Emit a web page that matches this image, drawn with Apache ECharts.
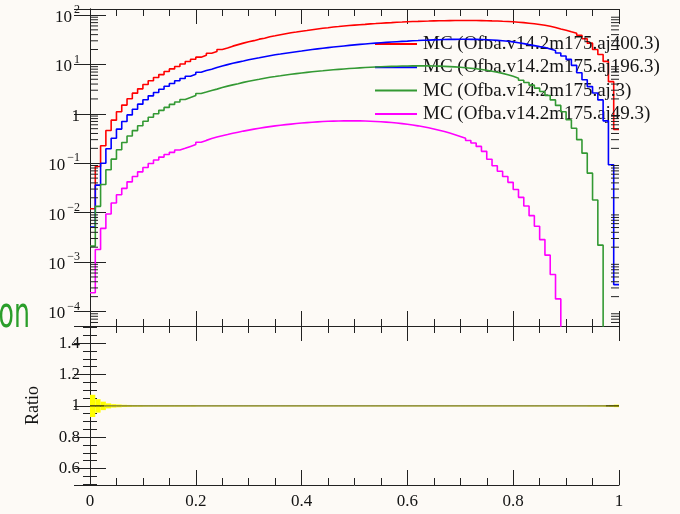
<!DOCTYPE html>
<html>
<head>
<meta charset="utf-8">
<script src="https://cdn.jsdelivr.net/npm/echarts@6/dist/echarts.min.js"></script>
<style>
  html, body { margin: 0; padding: 0; background: #fdfaf6; }
  #chart { width: 680px; height: 514px; }
</style>
</head>
<body>
<div id="chart"></div>
<script>
// Histogram binning: 100 equal bins on [0, 1]
const binCount = 100;
const xRange = [0, 1];

// Legend entries, one per sample
const sampleNames = [
  'MC (Ofba.v14.2m175.aj400.3)',
  'MC (Ofba.v14.2m175.aj196.3)',
  'MC (Ofba.v14.2m175.aj.3)',
  'MC (Ofba.v14.2m175.aj49.3)'
];

// Bin contents (0 = empty bin)
const aj400 = [
  0.012, 0.086, 0.226, 0.46, 0.745, 1.10, 1.50, 2.01, 2.62, 3.20,
  3.91, 4.65, 5.42, 6.22, 7.16, 8.11, 9.04, 10.2, 11.4, 12.7,
  14.0, 15.3, 16.8, 18.2, 20.0, 21.4, 23.4, 25.1, 26.9, 28.8,
  30.2, 32.4, 33.9, 36.3, 38.0, 39.8, 41.7, 43.7, 45.2, 46.8,
  48.4, 50.1, 51.9, 53.7, 55.0, 56.9, 58.2, 59.6, 61.0, 62.4,
  63.5, 64.6, 66.1, 67.1, 68.2, 69.2, 70.1, 71.1, 71.9, 72.8,
  73.5, 74.1, 74.8, 75.3, 75.9, 76.2, 76.6, 76.9, 77.1, 77.3,
  77.3, 77.3, 77.1, 76.9, 76.6, 76.0, 75.5, 74.6, 73.8, 72.8,
  71.4, 70.0, 68.2, 66.4, 64.1, 61.7, 58.9, 55.6, 51.9, 49.0,
  45.7, 42.7, 38.9, 33.1, 26.9, 20.0, 15.8, 11.5, 4.47, 0.48
];
const aj196 = [
  0.0051, 0.036, 0.10, 0.196, 0.32, 0.49, 0.70, 0.95, 1.24, 1.57,
  1.92, 2.31, 2.70, 3.15, 3.62, 4.10, 4.65, 5.18, 5.77, 6.32,
  6.95, 7.50, 7.94, 8.61, 9.23, 9.89, 10.5, 11.1, 11.7, 12.4,
  13.0, 13.6, 14.3, 15.0, 15.7, 16.2, 16.8, 17.4, 18.0, 18.6,
  19.3, 20.0, 20.6, 21.2, 21.8, 22.4, 23.0, 23.6, 24.2, 24.8,
  25.4, 25.9, 26.4, 26.9, 27.4, 27.9, 28.4, 28.8, 29.2, 29.6,
  30.1, 30.4, 30.8, 31.0, 31.3, 31.6, 31.8, 32.0, 32.1, 32.2,
  32.2, 32.1, 32.0, 31.8, 31.5, 31.1, 30.6, 30.0, 29.3, 28.5,
  27.5, 26.3, 25.1, 24.0, 22.9, 21.9, 20.4, 19.1, 17.0, 14.8,
  12.6, 9.55, 6.76, 4.90, 3.55, 2.63, 1.91, 0.72, 0.093, 0.00035
];
const ajDot3 = [
  0.0021, 0.0134, 0.037, 0.074, 0.121, 0.187, 0.263, 0.355, 0.457, 0.575,
  0.708, 0.851, 1.00, 1.175, 1.349, 1.549, 1.738, 1.95, 2.14, 2.34,
  2.57, 2.75, 2.95, 3.16, 3.39, 3.63, 3.85, 4.07, 4.32, 4.57,
  4.79, 5.01, 5.25, 5.50, 5.69, 5.89, 6.10, 6.31, 6.50, 6.70,
  6.89, 7.08, 7.24, 7.41, 7.59, 7.76, 7.94, 8.09, 8.24, 8.38,
  8.51, 8.63, 8.75, 8.85, 8.95, 9.04, 9.12, 9.18, 9.25, 9.29,
  9.31, 9.33, 9.33, 9.31, 9.27, 9.20, 9.12, 9.02, 8.89, 8.75,
  8.57, 8.38, 8.15, 7.89, 7.60, 7.29, 6.95, 6.58, 6.17, 5.73,
  5.27, 4.79, 4.30, 3.80, 3.31, 2.82, 2.34, 1.91, 1.48, 1.10,
  0.76, 0.51, 0.30, 0.16, 0.063, 0.018, 0.0022, 0, 0, 0
];
const aj49 = [
  0.00024, 0.0018, 0.0048, 0.0094, 0.0157, 0.023, 0.031, 0.042, 0.054, 0.067,
  0.082, 0.099, 0.116, 0.133, 0.150, 0.166, 0.185, 0.20, 0.219, 0.24,
  0.265, 0.29, 0.315, 0.339, 0.359, 0.38, 0.403, 0.425, 0.447, 0.468,
  0.49, 0.51, 0.531, 0.55, 0.569, 0.586, 0.603, 0.619, 0.635, 0.65,
  0.664, 0.676, 0.687, 0.697, 0.705, 0.711, 0.716, 0.72, 0.721, 0.721,
  0.72, 0.715, 0.708, 0.70, 0.69, 0.679, 0.667, 0.652, 0.634, 0.615,
  0.594, 0.571, 0.547, 0.521, 0.494, 0.466, 0.437, 0.407, 0.378, 0.348,
  0.319, 0.288, 0.257, 0.219, 0.174, 0.12, 0.089, 0.069, 0.054, 0.041,
  0.0295, 0.0204, 0.0136, 0.0087, 0.0053, 0.00285, 0.00138, 0.00056, 0.00018, 0,
  0, 0, 0, 0, 0, 0, 0, 0, 0, 0
];

// Ratio panel: reference / reference, and its relative statistical band half-width
const ratioValues = [
  1,1,1,1,1,1,1,1,1,1, 1,1,1,1,1,1,1,1,1,1, 1,1,1,1,1,1,1,1,1,1, 1,1,1,1,1,1,1,1,1,1,
  1,1,1,1,1,1,1,1,1,1, 1,1,1,1,1,1,1,1,1,1, 1,1,1,1,1,1,1,1,1,1, 1,1,1,1,1,1,1,1,1,1,
  1,1,1,1,1,1,1,1,1,1, 1,1,1,1,1,1,1,1,1,1
];
const bandHalfWidth = [
  0.071, 0.043, 0.027, 0.016, 0.011, 0.009, 0.007, 0.006, 0.005, 0.005,
  0.004, 0.004, 0.004, 0.004, 0.004, 0.004, 0.004, 0.004, 0.004, 0.004,
  0.003, 0.003, 0.003, 0.003, 0.003, 0.003, 0.003, 0.003, 0.003, 0.003,
  0.003, 0.003, 0.003, 0.003, 0.003, 0.003, 0.003, 0.003, 0.003, 0.003,
  0.003, 0.003, 0.003, 0.003, 0.003, 0.003, 0.003, 0.003, 0.003, 0.003,
  0.003, 0.003, 0.003, 0.003, 0.003, 0.003, 0.003, 0.003, 0.003, 0.003,
  0.003, 0.003, 0.003, 0.003, 0.003, 0.003, 0.003, 0.003, 0.003, 0.003,
  0.003, 0.003, 0.003, 0.003, 0.003, 0.003, 0.003, 0.003, 0.003, 0.003,
  0.003, 0.003, 0.003, 0.003, 0.003, 0.003, 0.003, 0.003, 0.003, 0.003,
  0.003, 0.003, 0.003, 0.003, 0.004, 0.004, 0.004, 0.005, 0.006, 0.008
];

const sampleValues = [aj400, aj196, ajDot3, aj49];
const sampleColors = ['#ff0000', '#0000ff', '#339933', '#ff00ff'];

// Axis ranges
const mainYRange = [5.09e-5, 132];
const ratioYRange = [0.495, 1.51];
const xTickStep = 0.2;

const serif = '"Liberation Serif", "DejaVu Serif", serif';
const frameColor = '#222222';
const textColor = '#141414';

// Bin lower/upper edges
function binEdges(i) {
  const w = (xRange[1] - xRange[0]) / binCount;
  return [xRange[0] + i * w, xRange[0] + (i + 1) * w];
}

// Turn bin contents into a stepped outline; empty bins drop below the axis floor
function stepOutline(vals, floor) {
  const pts = [];
  vals.forEach((v, i) => {
    const [lo, hi] = binEdges(i);
    const y = v > 0 ? v : floor;
    pts.push([lo, y], [hi, y]);
  });
  return pts;
}

// Log-axis minor tick positions (2..9 times each decade inside the range)
const minorLogTicks = [];
for (let e = -5; e <= 2; e++) {
  for (let m = 2; m <= 9; m++) {
    const v = m * Math.pow(10, e);
    if (v > mainYRange[0] && v < mainYRange[1]) minorLogTicks.push([0, v]);
  }
}

function decadeLabel(v) {
  const lg = Math.log10(v);
  const e = Math.round(lg);
  if (Math.abs(lg - e) > 1e-6) return '';
  if (e === 0) return '{b|1}';
  return '{b|10}{s|' + (e < 0 ? '\u2212' + (-e) : e) + '}';
}

const chart = echarts.init(document.getElementById('chart'), null, { renderer: 'canvas' });

const xAxisBase = (grid, pos, showLabels) => ({
  type: 'value',
  gridIndex: grid,
  position: pos,
  min: xRange[0],
  max: xRange[1],
  interval: xTickStep,
  axisLine: { show: true, onZero: false, lineStyle: { color: frameColor, width: 1 } },
  axisTick: { show: true, inside: true, length: 15, lineStyle: { color: frameColor, width: 1 } },
  minorTick: { show: true, splitNumber: 4, length: 7, lineStyle: { color: frameColor, width: 1 } },
  splitLine: { show: false },
  axisLabel: {
    show: showLabels,
    margin: 8,
    fontFamily: serif,
    fontSize: 17,
    color: textColor,
    formatter: v => String(+v.toFixed(2))
  }
});

const series = [];

sampleValues.forEach((vals, k) => {
  series.push({
    name: sampleNames[k],
    type: 'line',
    xAxisIndex: 0,
    yAxisIndex: 0,
    data: stepOutline(vals, 1e-9),
    showSymbol: false,
    symbol: 'none',
    clip: true,
    color: sampleColors[k],
    lineStyle: { color: sampleColors[k], width: 1.6 },
    z: 3 + k
  });
});

// Minor log ticks on both vertical frame edges
series.push({
  type: 'custom',
  xAxisIndex: 0,
  yAxisIndex: 0,
  data: minorLogTicks,
  clip: false,
  silent: true,
  z: 10,
  renderItem(params, api) {
    const v = api.value(1);
    const l = api.coord([xRange[0], v]);
    const r = api.coord([xRange[1], v]);
    const st = { stroke: frameColor, lineWidth: 1 };
    return {
      type: 'group',
      children: [
        { type: 'line', shape: { x1: l[0], y1: l[1], x2: l[0] + 8, y2: l[1] }, style: st },
        { type: 'line', shape: { x1: r[0] - 8, y1: r[1], x2: r[0], y2: r[1] }, style: st }
      ]
    };
  }
});

// Statistical band in the ratio panel
series.push({
  type: 'custom',
  xAxisIndex: 2,
  yAxisIndex: 2,
  data: ratioValues.map((r, i) => [i, r - bandHalfWidth[i], r + bandHalfWidth[i]]),
  clip: true,
  silent: true,
  z: 2,
  renderItem(params, api) {
    const i = api.value(0);
    const [lo, hi] = binEdges(i);
    const p0 = api.coord([lo, api.value(2)]);
    const p1 = api.coord([hi, api.value(1)]);
    return {
      type: 'rect',
      shape: { x: p0[0], y: p0[1], width: p1[0] - p0[0], height: Math.max(p1[1] - p0[1], 0.6) },
      style: { fill: '#ffff00' }
    };
  }
});

// Ratio line
series.push({
  type: 'line',
  xAxisIndex: 2,
  yAxisIndex: 2,
  data: stepOutline(ratioValues, 0),
  showSymbol: false,
  symbol: 'none',
  clip: true,
  lineStyle: {
    width: 1.4,
    color: new echarts.graphic.LinearGradient(0, 0, 1, 0, [
      { offset: 0, color: '#262610' },
      { offset: 0.03, color: '#262610' },
      { offset: 0.031, color: '#73733a' },
      { offset: 0.97, color: '#73733a' },
      { offset: 0.971, color: '#262610' },
      { offset: 1, color: '#262610' }
    ])
  },
  z: 4
});

const option = {
  backgroundColor: '#fdfaf6',
  animation: false,
  grid: [
    { left: 90, top: 9, width: 529, height: 317, containLabel: false },
    { left: 90, top: 326, width: 529, height: 159, containLabel: false }
  ],
  legend: {
    data: sampleNames,
    orient: 'vertical',
    left: 370,
    top: 29,
    icon: 'rect',
    itemWidth: 42,
    itemHeight: 2,
    itemGap: 3.3,
    selectedMode: false,
    textStyle: {
      fontFamily: serif,
      fontSize: 19,
      lineHeight: 20,
      color: textColor,
      padding: [0, 0, 0, 1]
    }
  },
  xAxis: [
    xAxisBase(0, 'bottom', false),
    xAxisBase(0, 'top', false),
    xAxisBase(1, 'bottom', true),
    xAxisBase(1, 'top', false)
  ],
  yAxis: [
    {
      type: 'log',
      logBase: 10,
      gridIndex: 0,
      position: 'left',
      min: mainYRange[0],
      max: mainYRange[1],
      axisLine: { show: true, lineStyle: { color: frameColor, width: 1 } },
      axisTick: { show: true, inside: true, length: 16, lineStyle: { color: frameColor, width: 1 } },
      splitLine: { show: false },
      axisLabel: {
        margin: 10,
        formatter: decadeLabel,
        rich: {
          b: { fontFamily: serif, fontSize: 17, color: textColor, lineHeight: 22, verticalAlign: 'bottom' },
          s: { fontFamily: serif, fontSize: 12, color: textColor, lineHeight: 12, verticalAlign: 'top', padding: [0, 0, 0, 2] }
        }
      }
    },
    {
      type: 'log',
      logBase: 10,
      gridIndex: 0,
      position: 'right',
      min: mainYRange[0],
      max: mainYRange[1],
      axisLine: { show: true, lineStyle: { color: frameColor, width: 1 } },
      axisTick: { show: true, inside: true, length: 16, lineStyle: { color: frameColor, width: 1 } },
      splitLine: { show: false },
      axisLabel: { show: false }
    },
    {
      type: 'value',
      gridIndex: 1,
      position: 'left',
      min: ratioYRange[0],
      max: ratioYRange[1],
      splitNumber: 5,
      name: 'Ratio',
      nameLocation: 'middle',
      nameGap: 48,
      nameTextStyle: { fontFamily: serif, fontSize: 18, color: textColor },
      axisLine: { show: true, lineStyle: { color: frameColor, width: 1 } },
      axisTick: { show: true, inside: true, length: 16, lineStyle: { color: frameColor, width: 1 } },
      minorTick: { show: true, splitNumber: 4, length: 7, lineStyle: { color: frameColor, width: 1 } },
      splitLine: { show: false },
      axisLabel: {
        margin: 10,
        showMinLabel: false,
        showMaxLabel: false,
        fontFamily: serif,
        fontSize: 17,
        color: textColor,
        formatter: v => String(+v.toFixed(2))
      }
    },
    {
      type: 'value',
      gridIndex: 1,
      position: 'right',
      min: ratioYRange[0],
      max: ratioYRange[1],
      splitNumber: 5,
      axisLine: { show: true, lineStyle: { color: frameColor, width: 1 } },
      axisTick: { show: true, inside: true, length: 16, lineStyle: { color: frameColor, width: 1 } },
      minorTick: { show: true, splitNumber: 4, length: 7, lineStyle: { color: frameColor, width: 1 } },
      splitLine: { show: false },
      axisLabel: { show: false }
    }
  ],
  graphic: [
    {
      type: 'text',
      x: -1.5,
      y: 295,
      scaleX: 0.6,
      z: 100,
      style: {
        text: 'on',
        font: '42px "DejaVu Sans", sans-serif',
        fill: '#2a9e2a',
        verticalAlign: 'top'
      }
    }
  ],
  series: series
};

chart.setOption(option);
</script>
</body>
</html>
